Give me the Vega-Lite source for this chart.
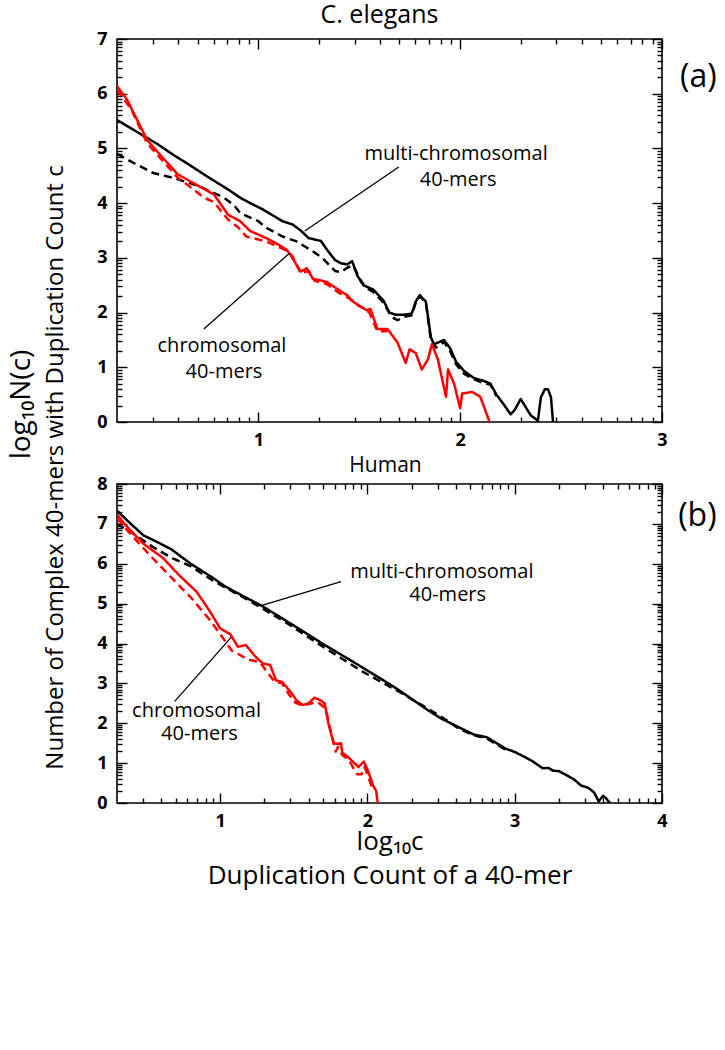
{
  "$schema": "https://vega.github.io/schema/vega-lite/v6.json",
  "background": "white",
  "padding": {"left": 6, "top": 1, "right": 0, "bottom": 12},
  "autosize": {"type": "pad"},
  "bounds": "flush",
  "spacing": 62,
  "config": {
    "font": "Open Sans",
    "view": {"stroke": "black", "strokeWidth": 1.6},
    "axis": {
      "grid": false, "domain": false,
      "tickColor": "black", "tickWidth": 1.4,
      "labelFont": "Open Sans, DejaVu Sans", "labelFontWeight": "bold", "labelFontSize": 18, "labelColor": "black",
      "labelOverlap": false, "labelFlush": false,
      "titleFont": "Open Sans, DejaVu Sans", "titleFontSize": 26, "titleFontWeight": "normal", "titleColor": "black"
    }
  },
  "datasets": {
    "curvesA": [
      {"s":"multiDash","x":0.30,"y":4.90},{"s":"multiDash","x":0.39,"y":4.72},{"s":"multiDash","x":0.48,"y":4.55},{"s":"multiDash","x":0.58,"y":4.46},{"s":"multiDash","x":0.70,"y":4.32},{"s":"multiDash","x":0.83,"y":4.10},{"s":"multiDash","x":0.88,"y":3.96},{"s":"multiDash","x":0.91,"y":3.82},{"s":"multiDash","x":1.00,"y":3.67},{"s":"multiDash","x":1.04,"y":3.55},{"s":"multiDash","x":1.12,"y":3.39},{"s":"multiDash","x":1.19,"y":3.30},{"s":"multiDash","x":1.27,"y":3.12},{"s":"multiDash","x":1.32,"y":2.99},{"s":"multiDash","x":1.38,"y":2.76},{"s":"multiDash","x":1.41,"y":2.74},{"s":"multiDash","x":1.44,"y":2.82},{"s":"multiDash","x":1.47,"y":2.86},{"s":"multiDash","x":1.50,"y":2.64},{"s":"multiDash","x":1.53,"y":2.46},{"s":"multiDash","x":1.57,"y":2.38},{"s":"multiDash","x":1.62,"y":2.18},{"s":"multiDash","x":1.66,"y":1.92},{"s":"multiDash","x":1.69,"y":1.86},{"s":"multiDash","x":1.72,"y":1.92},{"s":"multiDash","x":1.76,"y":1.95},{"s":"multiDash","x":1.78,"y":2.18},{"s":"multiDash","x":1.80,"y":2.30},{"s":"multiDash","x":1.83,"y":2.18},{"s":"multiDash","x":1.855,"y":1.50},{"s":"multiDash","x":1.88,"y":1.36},{"s":"multiDash","x":1.92,"y":1.46},{"s":"multiDash","x":1.95,"y":1.30},{"s":"multiDash","x":1.98,"y":1.05},{"s":"multiDash","x":2.02,"y":0.88},{"s":"multiDash","x":2.07,"y":0.78},{"s":"multiDash","x":2.11,"y":0.72},{"s":"multiDash","x":2.15,"y":0.68},{"s":"multiDash","x":2.18,"y":0.47},
      {"s":"multi","x":0.30,"y":5.52},{"s":"multi","x":0.40,"y":5.30},{"s":"multi","x":0.50,"y":5.08},{"s":"multi","x":0.58,"y":4.88},{"s":"multi","x":0.65,"y":4.72},{"s":"multi","x":0.75,"y":4.48},{"s":"multi","x":0.85,"y":4.25},{"s":"multi","x":0.91,"y":4.10},{"s":"multi","x":0.96,"y":4.00},{"s":"multi","x":1.02,"y":3.89},{"s":"multi","x":1.07,"y":3.78},{"s":"multi","x":1.12,"y":3.67},{"s":"multi","x":1.17,"y":3.61},{"s":"multi","x":1.21,"y":3.50},{"s":"multi","x":1.25,"y":3.36},{"s":"multi","x":1.31,"y":3.31},{"s":"multi","x":1.34,"y":3.15},{"s":"multi","x":1.38,"y":2.96},{"s":"multi","x":1.41,"y":2.90},{"s":"multi","x":1.44,"y":2.88},{"s":"multi","x":1.465,"y":2.94},{"s":"multi","x":1.49,"y":2.68},{"s":"multi","x":1.52,"y":2.50},{"s":"multi","x":1.57,"y":2.42},{"s":"multi","x":1.62,"y":2.22},{"s":"multi","x":1.65,"y":2.00},{"s":"multi","x":1.68,"y":1.96},{"s":"multi","x":1.72,"y":1.96},{"s":"multi","x":1.76,"y":1.98},{"s":"multi","x":1.78,"y":2.20},{"s":"multi","x":1.80,"y":2.32},{"s":"multi","x":1.83,"y":2.20},{"s":"multi","x":1.855,"y":1.55},{"s":"multi","x":1.87,"y":1.42},{"s":"multi","x":1.92,"y":1.50},{"s":"multi","x":1.95,"y":1.35},{"s":"multi","x":1.98,"y":1.10},{"s":"multi","x":2.02,"y":0.93},{"s":"multi","x":2.07,"y":0.80},{"s":"multi","x":2.11,"y":0.76},{"s":"multi","x":2.15,"y":0.70},{"s":"multi","x":2.18,"y":0.50},{"s":"multi","x":2.22,"y":0.30},{"s":"multi","x":2.25,"y":0.14},{"s":"multi","x":2.27,"y":0.22},{"s":"multi","x":2.30,"y":0.42},{"s":"multi","x":2.33,"y":0.24},{"s":"multi","x":2.35,"y":0.12},{"s":"multi","x":2.38,"y":0.04},{"s":"multi","x":2.385,"y":0.02},{"s":"multi","x":2.40,"y":0.45},{"s":"multi","x":2.42,"y":0.60},{"s":"multi","x":2.435,"y":0.60},{"s":"multi","x":2.45,"y":0.45},{"s":"multi","x":2.46,"y":0.0},
      {"s":"chromDash","x":0.30,"y":6.08},{"s":"chromDash","x":0.37,"y":5.72},{"s":"chromDash","x":0.45,"y":5.09},{"s":"chromDash","x":0.52,"y":4.80},{"s":"chromDash","x":0.60,"y":4.47},{"s":"chromDash","x":0.67,"y":4.28},{"s":"chromDash","x":0.73,"y":4.10},{"s":"chromDash","x":0.78,"y":4.02},{"s":"chromDash","x":0.85,"y":3.70},{"s":"chromDash","x":0.90,"y":3.56},{"s":"chromDash","x":0.94,"y":3.39},{"s":"chromDash","x":1.04,"y":3.30},{"s":"chromDash","x":1.10,"y":3.20},{"s":"chromDash","x":1.15,"y":3.12},{"s":"chromDash","x":1.17,"y":3.02},{"s":"chromDash","x":1.21,"y":2.72},{"s":"chromDash","x":1.25,"y":2.76},{"s":"chromDash","x":1.28,"y":2.58},{"s":"chromDash","x":1.34,"y":2.52},{"s":"chromDash","x":1.40,"y":2.36},{"s":"chromDash","x":1.45,"y":2.26},{"s":"chromDash","x":1.48,"y":2.16},{"s":"chromDash","x":1.52,"y":2.08},{"s":"chromDash","x":1.55,"y":2.00},{"s":"chromDash","x":1.59,"y":1.66},{"s":"chromDash","x":1.64,"y":1.66},
      {"s":"chrom","x":0.30,"y":6.14},{"s":"chrom","x":0.35,"y":5.89},{"s":"chrom","x":0.40,"y":5.52},{"s":"chrom","x":0.45,"y":5.15},{"s":"chrom","x":0.51,"y":4.90},{"s":"chrom","x":0.60,"y":4.53},{"s":"chrom","x":0.70,"y":4.32},{"s":"chrom","x":0.78,"y":4.16},{"s":"chrom","x":0.85,"y":3.79},{"s":"chrom","x":0.91,"y":3.67},{"s":"chrom","x":0.96,"y":3.49},{"s":"chrom","x":1.04,"y":3.36},{"s":"chrom","x":1.10,"y":3.24},{"s":"chrom","x":1.14,"y":3.15},{"s":"chrom","x":1.16,"y":3.05},{"s":"chrom","x":1.21,"y":2.75},{"s":"chrom","x":1.24,"y":2.81},{"s":"chrom","x":1.27,"y":2.62},{"s":"chrom","x":1.34,"y":2.56},{"s":"chrom","x":1.40,"y":2.41},{"s":"chrom","x":1.44,"y":2.32},{"s":"chrom","x":1.47,"y":2.20},{"s":"chrom","x":1.51,"y":2.10},{"s":"chrom","x":1.54,"y":2.04},{"s":"chrom","x":1.555,"y":2.07},{"s":"chrom","x":1.59,"y":1.70},{"s":"chrom","x":1.64,"y":1.70},{"s":"chrom","x":1.69,"y":1.45},{"s":"chrom","x":1.73,"y":1.08},{"s":"chrom","x":1.75,"y":1.33},{"s":"chrom","x":1.78,"y":1.26},{"s":"chrom","x":1.81,"y":0.96},{"s":"chrom","x":1.84,"y":1.14},{"s":"chrom","x":1.86,"y":1.42},{"s":"chrom","x":1.89,"y":1.14},{"s":"chrom","x":1.93,"y":0.46},{"s":"chrom","x":1.94,"y":0.96},{"s":"chrom","x":1.97,"y":0.70},{"s":"chrom","x":2.00,"y":0.25},{"s":"chrom","x":2.01,"y":0.52},{"s":"chrom","x":2.06,"y":0.55},{"s":"chrom","x":2.10,"y":0.46},{"s":"chrom","x":2.14,"y":0.06},{"s":"chrom","x":2.145,"y":0.0}
    ],
    "curvesB": [
      {"s":"multiDash","x":0.30,"y":7.00},{"s":"multiDash","x":0.40,"y":6.78},{"s":"multiDash","x":0.54,"y":6.43},{"s":"multiDash","x":0.67,"y":6.15},{"s":"multiDash","x":0.80,"y":5.94},{"s":"multiDash","x":0.95,"y":5.58},{"s":"multiDash","x":1.19,"y":5.09},{"s":"multiDash","x":1.45,"y":4.52},{"s":"multiDash","x":1.71,"y":3.89},{"s":"multiDash","x":1.97,"y":3.29},{"s":"multiDash","x":2.23,"y":2.76},{"s":"multiDash","x":2.49,"y":2.19},{"s":"multiDash","x":2.62,"y":1.87},{"s":"multiDash","x":2.72,"y":1.70},{"s":"multiDash","x":2.81,"y":1.62},{"s":"multiDash","x":2.94,"y":1.33},
      {"s":"multi","x":0.30,"y":7.33},{"s":"multi","x":0.40,"y":6.98},{"s":"multi","x":0.48,"y":6.71},{"s":"multi","x":0.57,"y":6.55},{"s":"multi","x":0.67,"y":6.36},{"s":"multi","x":0.80,"y":6.00},{"s":"multi","x":0.95,"y":5.65},{"s":"multi","x":1.03,"y":5.44},{"s":"multi","x":1.15,"y":5.20},{"s":"multi","x":1.28,"y":4.95},{"s":"multi","x":1.40,"y":4.68},{"s":"multi","x":1.50,"y":4.45},{"s":"multi","x":1.60,"y":4.22},{"s":"multi","x":1.71,"y":3.96},{"s":"multi","x":1.84,"y":3.68},{"s":"multi","x":1.97,"y":3.39},{"s":"multi","x":2.09,"y":3.12},{"s":"multi","x":2.21,"y":2.84},{"s":"multi","x":2.32,"y":2.56},{"s":"multi","x":2.41,"y":2.33},{"s":"multi","x":2.50,"y":2.12},{"s":"multi","x":2.62,"y":1.90},{"s":"multi","x":2.72,"y":1.72},{"s":"multi","x":2.81,"y":1.65},{"s":"multi","x":2.94,"y":1.36},{"s":"multi","x":3.00,"y":1.28},{"s":"multi","x":3.07,"y":1.15},{"s":"multi","x":3.12,"y":1.05},{"s":"multi","x":3.19,"y":0.87},{"s":"multi","x":3.23,"y":0.88},{"s":"multi","x":3.26,"y":0.81},{"s":"multi","x":3.30,"y":0.80},{"s":"multi","x":3.35,"y":0.70},{"s":"multi","x":3.40,"y":0.60},{"s":"multi","x":3.45,"y":0.44},{"s":"multi","x":3.50,"y":0.38},{"s":"multi","x":3.54,"y":0.26},{"s":"multi","x":3.57,"y":0.04},{"s":"multi","x":3.60,"y":0.18},{"s":"multi","x":3.62,"y":0.12},{"s":"multi","x":3.64,"y":0.02},{"s":"multi","x":3.65,"y":0.0},
      {"s":"chromDash","x":0.30,"y":7.14},{"s":"chromDash","x":0.40,"y":6.71},{"s":"chromDash","x":0.54,"y":6.15},{"s":"chromDash","x":0.67,"y":5.65},{"s":"chromDash","x":0.80,"y":5.16},{"s":"chromDash","x":0.93,"y":4.59},{"s":"chromDash","x":1.00,"y":4.24},{"s":"chromDash","x":1.08,"y":3.82},{"s":"chromDash","x":1.19,"y":3.60},{"s":"chromDash","x":1.27,"y":3.53},{"s":"chromDash","x":1.37,"y":3.04},{"s":"chromDash","x":1.42,"y":3.00},{"s":"chromDash","x":1.50,"y":2.54},{"s":"chromDash","x":1.56,"y":2.44},{"s":"chromDash","x":1.66,"y":2.54},{"s":"chromDash","x":1.70,"y":2.42},{"s":"chromDash","x":1.72,"y":2.33},{"s":"chromDash","x":1.74,"y":1.98},{"s":"chromDash","x":1.785,"y":1.29},{"s":"chromDash","x":1.80,"y":1.40},{"s":"chromDash","x":1.83,"y":1.20},{"s":"chromDash","x":1.87,"y":1.10},{"s":"chromDash","x":1.93,"y":0.72},{"s":"chromDash","x":1.96,"y":0.72},{"s":"chromDash","x":1.98,"y":0.90},{"s":"chromDash","x":2.00,"y":0.72},{"s":"chromDash","x":2.03,"y":0.40},
      {"s":"chrom","x":0.30,"y":7.24},{"s":"chrom","x":0.35,"y":7.00},{"s":"chrom","x":0.48,"y":6.50},{"s":"chrom","x":0.61,"y":6.15},{"s":"chrom","x":0.72,"y":5.72},{"s":"chrom","x":0.84,"y":5.30},{"s":"chrom","x":0.93,"y":4.81},{"s":"chrom","x":1.00,"y":4.38},{"s":"chrom","x":1.07,"y":4.23},{"s":"chrom","x":1.12,"y":3.92},{"s":"chrom","x":1.175,"y":3.96},{"s":"chrom","x":1.24,"y":3.67},{"s":"chrom","x":1.29,"y":3.50},{"s":"chrom","x":1.34,"y":3.46},{"s":"chrom","x":1.38,"y":3.07},{"s":"chrom","x":1.42,"y":3.04},{"s":"chrom","x":1.48,"y":2.78},{"s":"chrom","x":1.52,"y":2.57},{"s":"chrom","x":1.56,"y":2.46},{"s":"chrom","x":1.60,"y":2.50},{"s":"chrom","x":1.64,"y":2.64},{"s":"chrom","x":1.68,"y":2.58},{"s":"chrom","x":1.71,"y":2.50},{"s":"chrom","x":1.735,"y":2.00},{"s":"chrom","x":1.77,"y":1.50},{"s":"chrom","x":1.80,"y":1.48},{"s":"chrom","x":1.82,"y":1.50},{"s":"chrom","x":1.83,"y":1.26},{"s":"chrom","x":1.87,"y":1.15},{"s":"chrom","x":1.90,"y":1.04},{"s":"chrom","x":1.94,"y":0.90},{"s":"chrom","x":1.975,"y":1.04},{"s":"chrom","x":1.99,"y":0.92},{"s":"chrom","x":2.006,"y":0.79},{"s":"chrom","x":2.038,"y":0.44},{"s":"chrom","x":2.06,"y":0.30},{"s":"chrom","x":2.07,"y":0.0}
    ],
    "pointersA": [
      {"x1":1.696,"y1":4.66,"x2":1.23,"y2":3.49},
      {"x1":0.73,"y1":1.70,"x2":1.153,"y2":3.08}
    ],
    "pointersB": [
      {"x1":1.821,"y1":5.55,"x2":1.279,"y2":4.95},
      {"x1":0.692,"y1":2.55,"x2":1.076,"y2":4.16}
    ],
    "notesA": [
      {"x":1.98,"y":4.79,"text":"multi-chromosomal"},
      {"x":1.99,"y":4.32,"text":"40-mers"},
      {"x":0.82,"y":1.28,"text":"chromosomal"},
      {"x":0.83,"y":0.80,"text":"40-mers"}
    ],
    "notesB": [
      {"x":2.505,"y":5.64,"text":"multi-chromosomal"},
      {"x":2.545,"y":5.06,"text":"40-mers"},
      {"x":0.84,"y":2.16,"text":"chromosomal"},
      {"x":0.86,"y":1.58,"text":"40-mers"}
    ],
    "tagA": [{"x":3.18,"y":6.3,"text":"(a)"}],
    "tagB": [{"x":4.24,"y":7.2,"text":"(b)"}]
  },
  "vconcat": [
    {
      "width": 545,
      "height": 383,
      "layer": [
        {
          "data": {"name": "curvesA"},
          "transform": [{"filter": "datum.s === 'multi' || datum.s === 'multiDash'"}],
          "mark": {"type": "line", "strokeWidth": 2.5, "clip": true, "strokeJoin": "round", "color": "#000000"},
          "encoding": {
            "x": {"field": "x", "type": "quantitative",
              "scale": {"domain": [0.3, 3], "nice": false, "zero": false},
              "axis": {"orient": "bottom", "title": null, "values": [1,2,3], "format": "d", "ticks": false, "labelPadding": 9}},
            "y": {"field": "y", "type": "quantitative",
              "scale": {"domain": [0, 7], "nice": false, "zero": false},
              "axis": {"orient": "left", "values": [0,1,2,3,4,5,6,7], "format": "d", "ticks": false, "labelPadding": 10,
                "title": "log₁₀N(c)", "titleFontSize": 28, "titleX": -88, "titleY": 365, "titleAngle": -90,
                "titleAlign": "center", "titleBaseline": "alphabetic"}},
            "strokeDash": {"field": "s", "type": "nominal", "legend": null,
              "scale": {"domain": ["multi","multiDash","chrom","chromDash"], "range": [[1,0],[8,5],[1,0],[8,5]]}}
          }
        },
        {
          "data": {"name": "curvesA"},
          "transform": [{"filter": "datum.s === 'chrom' || datum.s === 'chromDash'"}],
          "mark": {"type": "line", "strokeWidth": 2.5, "clip": true, "strokeJoin": "round", "color": "#ff0000"},
          "encoding": {
            "x": {"field": "x", "type": "quantitative",
              "scale": {"domain": [0.3, 3], "nice": false, "zero": false},
              "axis": {"orient": "top", "offset": -383, "title": null, "labels": false, "values": [1,2,3], "tickSize": 10}},
            "y": {"field": "y", "type": "quantitative",
              "scale": {"domain": [0, 7], "nice": false, "zero": false},
              "axis": {"orient": "right", "offset": -545, "title": null, "labels": false, "values": [0,1,2,3,4,5,6,7], "tickSize": 10}},
            "strokeDash": {"field": "s", "type": "nominal", "legend": null,
              "scale": {"domain": ["multi","multiDash","chrom","chromDash"], "range": [[1,0],[8,5],[1,0],[8,5]]}}
          }
        },
        {
          "data": {"name": "pointersA"},
          "mark": {"type": "rule", "strokeWidth": 1.3, "color": "black"},
          "encoding": {
            "x": {"field": "x1", "type": "quantitative",
              "scale": {"domain": [0.3, 3], "nice": false, "zero": false},
              "axis": {"orient": "top", "offset": -383, "title": null, "labels": false, "tickSize": 5,
                "values": [0.4771,0.6021,0.699,0.7782,0.8451,0.9031,0.9542,1.301,1.4771,1.6021,1.699,1.7782,1.8451,1.9031,1.9542,2.301,2.4771,2.6021,2.699,2.7782,2.8451,2.9031,2.9542]}},
            "y": {"field": "y1", "type": "quantitative",
              "scale": {"domain": [0, 7], "nice": false, "zero": false},
              "axis": {"orient": "right", "offset": -545, "title": null, "labels": false, "tickSize": 5,
                "values": [0.301,0.4771,0.6021,0.699,0.7782,0.8451,0.9031,0.9542,1.301,1.4771,1.6021,1.699,1.7782,1.8451,1.9031,1.9542,2.301,2.4771,2.6021,2.699,2.7782,2.8451,2.9031,2.9542,3.301,3.4771,3.6021,3.699,3.7782,3.8451,3.9031,3.9542,4.301,4.4771,4.6021,4.699,4.7782,4.8451,4.9031,4.9542,5.301,5.4771,5.6021,5.699,5.7782,5.8451,5.9031,5.9542,6.301,6.4771,6.6021,6.699,6.7782,6.8451,6.9031,6.9542]}},
            "x2": {"field": "x2"},
            "y2": {"field": "y2"}
          }
        },
        {
          "data": {"name": "notesA"},
          "mark": {"type": "text", "font": "Open Sans", "fontSize": 20, "align": "center", "baseline": "alphabetic", "color": "black"},
          "encoding": {
            "x": {"field": "x", "type": "quantitative",
              "scale": {"domain": [0.3, 3], "nice": false, "zero": false},
              "axis": {"orient": "bottom", "offset": -383, "labels": false, "values": [1,2,3], "tickSize": 10,
                "title": "C. elegans", "titleFontSize": 25, "titleX": 262, "titleY": -16.5, "titleAngle": 0,
                "titleAlign": "center", "titleBaseline": "alphabetic"}},
            "y": {"field": "y", "type": "quantitative",
              "scale": {"domain": [0, 7], "nice": false, "zero": false},
              "axis": {"orient": "left", "offset": -545, "title": null, "labels": false, "values": [0,1,2,3,4,5,6,7], "tickSize": 10}},
            "text": {"field": "text"}
          }
        },
        {
          "data": {"name": "tagA"},
          "mark": {"type": "text", "font": "Open Sans", "fontSize": 32, "align": "center", "baseline": "middle", "color": "black", "clip": false},
          "encoding": {
            "x": {"field": "x", "type": "quantitative",
              "scale": {"domain": [0.3, 3], "nice": false, "zero": false},
              "axis": {"orient": "bottom", "offset": -383, "title": null, "labels": false, "tickSize": 5,
                "values": [0.4771,0.6021,0.699,0.7782,0.8451,0.9031,0.9542,1.301,1.4771,1.6021,1.699,1.7782,1.8451,1.9031,1.9542,2.301,2.4771,2.6021,2.699,2.7782,2.8451,2.9031,2.9542]}},
            "y": {"field": "y", "type": "quantitative",
              "scale": {"domain": [0, 7], "nice": false, "zero": false},
              "axis": {"orient": "left", "offset": -545, "title": null, "labels": false, "tickSize": 5,
                "values": [0.301,0.4771,0.6021,0.699,0.7782,0.8451,0.9031,0.9542,1.301,1.4771,1.6021,1.699,1.7782,1.8451,1.9031,1.9542,2.301,2.4771,2.6021,2.699,2.7782,2.8451,2.9031,2.9542,3.301,3.4771,3.6021,3.699,3.7782,3.8451,3.9031,3.9542,4.301,4.4771,4.6021,4.699,4.7782,4.8451,4.9031,4.9542,5.301,5.4771,5.6021,5.699,5.7782,5.8451,5.9031,5.9542,6.301,6.4771,6.6021,6.699,6.7782,6.8451,6.9031,6.9542]}},
            "text": {"field": "text"}
          }
        }
      ],
      "resolve": {"axis": {"x": "independent", "y": "independent"}}
    },
    {
      "width": 545,
      "height": 319,
      "layer": [
        {
          "data": {"name": "curvesB"},
          "transform": [{"filter": "datum.s === 'multi' || datum.s === 'multiDash'"}],
          "mark": {"type": "line", "strokeWidth": 2.5, "clip": true, "strokeJoin": "round", "color": "#000000"},
          "encoding": {
            "x": {"field": "x", "type": "quantitative",
              "scale": {"domain": [0.3, 4], "nice": false, "zero": false},
              "axis": {"orient": "bottom", "values": [1,2,3,4], "format": "d", "ticks": false, "labelPadding": 9,
                "title": ["log₁₀c", "Duplication Count of a 40-mer"],
                "titleX": 272.5, "titleY": 46, "titleAlign": "center", "titleBaseline": "alphabetic", "titleLineHeight": 34, "titleAngle": 0}},
            "y": {"field": "y", "type": "quantitative",
              "scale": {"domain": [0, 8], "nice": false, "zero": false},
              "axis": {"orient": "left", "values": [0,1,2,3,4,5,6,7,8], "format": "d", "ticks": false, "labelPadding": 10,
                "title": "Number of Complex 40-mers with Duplication Count c", "titleFontSize": 24,
                "titleX": -55, "titleY": -17, "titleAngle": -90,
                "titleAlign": "center", "titleBaseline": "alphabetic"}},
            "strokeDash": {"field": "s", "type": "nominal", "legend": null,
              "scale": {"domain": ["multi","multiDash","chrom","chromDash"], "range": [[1,0],[8,5],[1,0],[8,5]]}}
          }
        },
        {
          "data": {"name": "curvesB"},
          "transform": [{"filter": "datum.s === 'chrom' || datum.s === 'chromDash'"}],
          "mark": {"type": "line", "strokeWidth": 2.5, "clip": true, "strokeJoin": "round", "color": "#ff0000"},
          "encoding": {
            "x": {"field": "x", "type": "quantitative",
              "scale": {"domain": [0.3, 4], "nice": false, "zero": false},
              "axis": {"orient": "top", "offset": -319, "title": null, "labels": false, "values": [1,2,3,4], "tickSize": 10}},
            "y": {"field": "y", "type": "quantitative",
              "scale": {"domain": [0, 8], "nice": false, "zero": false},
              "axis": {"orient": "right", "offset": -545, "title": null, "labels": false, "values": [0,1,2,3,4,5,6,7,8], "tickSize": 10}},
            "strokeDash": {"field": "s", "type": "nominal", "legend": null,
              "scale": {"domain": ["multi","multiDash","chrom","chromDash"], "range": [[1,0],[8,5],[1,0],[8,5]]}}
          }
        },
        {
          "data": {"name": "pointersB"},
          "mark": {"type": "rule", "strokeWidth": 1.3, "color": "black"},
          "encoding": {
            "x": {"field": "x1", "type": "quantitative",
              "scale": {"domain": [0.3, 4], "nice": false, "zero": false},
              "axis": {"orient": "top", "offset": -319, "title": null, "labels": false, "tickSize": 5,
                "values": [0.4771,0.6021,0.699,0.7782,0.8451,0.9031,0.9542,1.301,1.4771,1.6021,1.699,1.7782,1.8451,1.9031,1.9542,2.301,2.4771,2.6021,2.699,2.7782,2.8451,2.9031,2.9542,3.301,3.4771,3.6021,3.699,3.7782,3.8451,3.9031,3.9542]}},
            "y": {"field": "y1", "type": "quantitative",
              "scale": {"domain": [0, 8], "nice": false, "zero": false},
              "axis": {"orient": "right", "offset": -545, "title": null, "labels": false, "tickSize": 5,
                "values": [0.301,0.4771,0.6021,0.699,0.7782,0.8451,0.9031,0.9542,1.301,1.4771,1.6021,1.699,1.7782,1.8451,1.9031,1.9542,2.301,2.4771,2.6021,2.699,2.7782,2.8451,2.9031,2.9542,3.301,3.4771,3.6021,3.699,3.7782,3.8451,3.9031,3.9542,4.301,4.4771,4.6021,4.699,4.7782,4.8451,4.9031,4.9542,5.301,5.4771,5.6021,5.699,5.7782,5.8451,5.9031,5.9542,6.301,6.4771,6.6021,6.699,6.7782,6.8451,6.9031,6.9542,7.301,7.4771,7.6021,7.699,7.7782,7.8451,7.9031,7.9542]}},
            "x2": {"field": "x2"},
            "y2": {"field": "y2"}
          }
        },
        {
          "data": {"name": "notesB"},
          "mark": {"type": "text", "font": "Open Sans", "fontSize": 20, "align": "center", "baseline": "alphabetic", "color": "black"},
          "encoding": {
            "x": {"field": "x", "type": "quantitative",
              "scale": {"domain": [0.3, 4], "nice": false, "zero": false},
              "axis": {"orient": "bottom", "offset": -319, "labels": false, "values": [1,2,3,4], "tickSize": 10,
                "title": "Human", "titleFontSize": 21, "titleX": 268, "titleY": -13, "titleAngle": 0,
                "titleAlign": "center", "titleBaseline": "alphabetic"}},
            "y": {"field": "y", "type": "quantitative",
              "scale": {"domain": [0, 8], "nice": false, "zero": false},
              "axis": {"orient": "left", "offset": -545, "title": null, "labels": false, "values": [0,1,2,3,4,5,6,7,8], "tickSize": 10}},
            "text": {"field": "text"}
          }
        },
        {
          "data": {"name": "tagB"},
          "mark": {"type": "text", "font": "Open Sans", "fontSize": 32, "align": "center", "baseline": "middle", "color": "black", "clip": false},
          "encoding": {
            "x": {"field": "x", "type": "quantitative",
              "scale": {"domain": [0.3, 4], "nice": false, "zero": false},
              "axis": {"orient": "bottom", "offset": -319, "title": null, "labels": false, "tickSize": 5,
                "values": [0.4771,0.6021,0.699,0.7782,0.8451,0.9031,0.9542,1.301,1.4771,1.6021,1.699,1.7782,1.8451,1.9031,1.9542,2.301,2.4771,2.6021,2.699,2.7782,2.8451,2.9031,2.9542,3.301,3.4771,3.6021,3.699,3.7782,3.8451,3.9031,3.9542]}},
            "y": {"field": "y", "type": "quantitative",
              "scale": {"domain": [0, 8], "nice": false, "zero": false},
              "axis": {"orient": "left", "offset": -545, "title": null, "labels": false, "tickSize": 5,
                "values": [0.301,0.4771,0.6021,0.699,0.7782,0.8451,0.9031,0.9542,1.301,1.4771,1.6021,1.699,1.7782,1.8451,1.9031,1.9542,2.301,2.4771,2.6021,2.699,2.7782,2.8451,2.9031,2.9542,3.301,3.4771,3.6021,3.699,3.7782,3.8451,3.9031,3.9542,4.301,4.4771,4.6021,4.699,4.7782,4.8451,4.9031,4.9542,5.301,5.4771,5.6021,5.699,5.7782,5.8451,5.9031,5.9542,6.301,6.4771,6.6021,6.699,6.7782,6.8451,6.9031,6.9542,7.301,7.4771,7.6021,7.699,7.7782,7.8451,7.9031,7.9542]}},
            "text": {"field": "text"}
          }
        }
      ],
      "resolve": {"axis": {"x": "independent", "y": "independent"}}
    }
  ]
}
